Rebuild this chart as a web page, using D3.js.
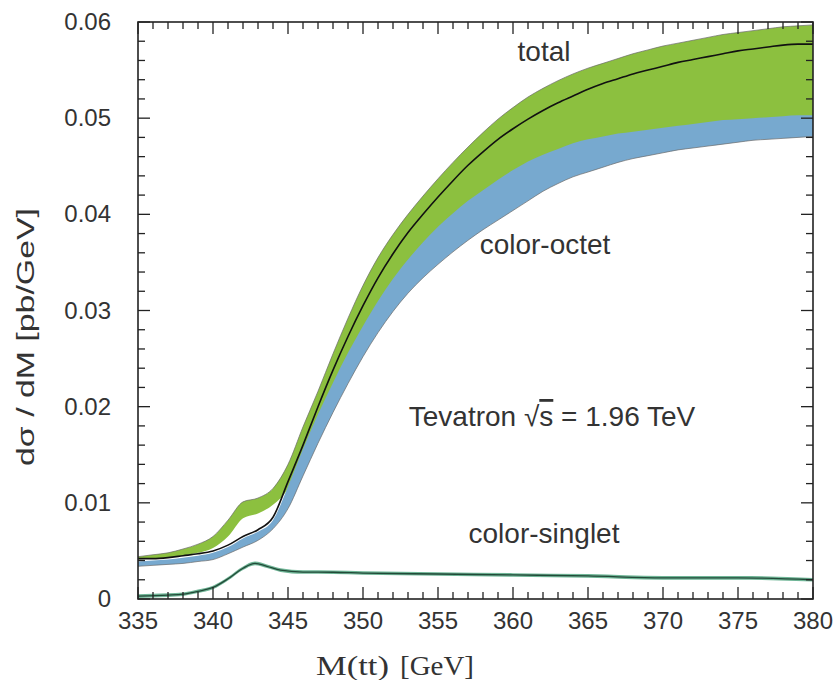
<!DOCTYPE html>
<html>
<head>
<meta charset="utf-8">
<script src="https://cdn.jsdelivr.net/npm/d3@7"></script>
<style>
  html, body { margin: 0; padding: 0; background: #fff; }
  svg { display: block; }
  text { font-family: "Liberation Sans", Arial, Helvetica, sans-serif; fill: #333; }
</style>
</head>
<body>
<svg id="chart" width="836" height="680"></svg>
<script>
// ---------------- data ----------------
const mass = [335,336,337,338,339,340,341,342,343,344,345,346,347,348,349,350,351,352,353,354,355,356,357,358,359,360,361,362,363,364,365,366,367,368,369,370,371,372,373,374,375,376,377,378,379,380];

// total band (green), upper / lower edges
const totalUpper = [0.0044,0.0046,0.0048,0.0052,0.0057,0.0065,0.0082,0.0101,0.0105,0.0115,0.0140,0.0179,0.0216,0.0255,0.0292,0.0326,0.0355,0.0379,0.0400,0.0419,0.0437,0.0454,0.0470,0.0485,0.0499,0.0511,0.0522,0.0531,0.0539,0.0546,0.0552,0.0557,0.0562,0.0567,0.0571,0.0575,0.0578,0.0581,0.0584,0.0587,0.0589,0.0591,0.0593,0.0595,0.0596,0.0597];
const totalLower = [0.0041,0.0042,0.0043,0.0045,0.0048,0.0053,0.0065,0.0084,0.0089,0.0098,0.0115,0.0150,0.0189,0.0222,0.0253,0.0281,0.0307,0.0330,0.0350,0.0368,0.0384,0.0398,0.0411,0.0422,0.0433,0.0443,0.0452,0.0459,0.0465,0.0471,0.0475,0.0478,0.0481,0.0483,0.0485,0.0487,0.0489,0.0491,0.0493,0.0495,0.0496,0.0497,0.0498,0.0499,0.0500,0.0500];
// total central value (black line)
const totalCentral = [0.0042,0.0042,0.0043,0.0045,0.0047,0.0050,0.0056,0.0065,0.0072,0.0085,0.0122,0.0160,0.0200,0.0238,0.0273,0.0305,0.0334,0.0359,0.0381,0.0400,0.0418,0.0435,0.0451,0.0465,0.0478,0.0489,0.0499,0.0508,0.0516,0.0523,0.0530,0.0536,0.0541,0.0546,0.0550,0.0554,0.0558,0.0561,0.0564,0.0567,0.0570,0.0572,0.0574,0.0576,0.0577,0.0577];
// color-octet band (blue)
const octetUpper = [0.0039,0.0040,0.0041,0.0043,0.0045,0.0048,0.0054,0.0063,0.0070,0.0082,0.0117,0.0156,0.0192,0.0225,0.0256,0.0284,0.0310,0.0333,0.0353,0.0371,0.0387,0.0401,0.0414,0.0425,0.0436,0.0446,0.0455,0.0462,0.0468,0.0474,0.0478,0.0481,0.0484,0.0486,0.0488,0.0490,0.0492,0.0494,0.0496,0.0498,0.0499,0.0500,0.0501,0.0502,0.0503,0.0503];
const octetLower = [0.0034,0.0035,0.0036,0.0037,0.0039,0.0041,0.0047,0.0054,0.0061,0.0073,0.0094,0.0128,0.0162,0.0194,0.0224,0.0252,0.0277,0.0299,0.0318,0.0334,0.0348,0.0361,0.0373,0.0384,0.0394,0.0404,0.0414,0.0424,0.0432,0.0439,0.0444,0.0449,0.0454,0.0458,0.0461,0.0464,0.0467,0.0469,0.0471,0.0473,0.0475,0.0477,0.0478,0.0479,0.0480,0.0481];
// color-singlet
const singletMass = [335,337,338,339,340,341,342,342.8,343.6,344.5,346,348,350,355,360,365,370,375,380];
const singletValue = [0.0003,0.0004,0.0005,0.0008,0.0012,0.0021,0.0032,0.0037,0.0034,0.0030,0.0028,0.00278,0.0027,0.0026,0.0025,0.0024,0.0022,0.0022,0.0020];

const xMajorTicks = [335,340,345,350,355,360,365,370,375,380];
const yMajorTicks = [0,0.01,0.02,0.03,0.04,0.05,0.06];
const yTickLabels = ["0","0.01","0.02","0.03","0.04","0.05","0.06"];

// ---------------- layout ----------------
const svg = d3.select("#chart");
const pL = 138, pT = 22, pR = 813, pB = 599;
const x = d3.scaleLinear().domain([335, 380]).range([pL, pR]);
const y = d3.scaleLinear().domain([0, 0.06]).range([pB, pT]);

const rows = mass.map((m, i) => ({m, gu: totalUpper[i], gl: totalLower[i], c: totalCentral[i], bu: octetUpper[i], bl: octetLower[i]}));
const srows = singletMass.map((m, i) => ({m, v: singletValue[i]}));

svg.append("defs").append("clipPath").attr("id", "plotclip")
  .append("rect").attr("x", pL).attr("y", pT).attr("width", pR - pL).attr("height", pB - pT);
const plot = svg.append("g").attr("clip-path", "url(#plotclip)");

const curve = d3.curveMonotoneX;
// green total band
plot.append("path").datum(rows)
  .attr("d", d3.area().curve(curve).x(d => x(d.m)).y0(d => y(d.gl)).y1(d => y(d.gu)))
  .attr("fill", "#8cc03f");
// blue octet band
plot.append("path").datum(rows)
  .attr("d", d3.area().curve(curve).x(d => x(d.m)).y0(d => y(d.bl)).y1(d => y(d.bu)))
  .attr("fill", "#77a9cf");
// thin outlines
plot.append("path").datum(rows)
  .attr("d", d3.line().curve(curve).x(d => x(d.m)).y(d => y(d.gu)))
  .attr("fill", "none").attr("stroke", "#6a6a6a").attr("stroke-width", 0.7);
plot.append("path").datum(rows)
  .attr("d", d3.line().curve(curve).x(d => x(d.m)).y(d => y(d.bl)))
  .attr("fill", "none").attr("stroke", "#6a6a6a").attr("stroke-width", 0.7);
// black central line
plot.append("path").datum(rows)
  .attr("d", d3.line().curve(curve).x(d => x(d.m)).y(d => y(d.c)))
  .attr("fill", "none").attr("stroke", "#111").attr("stroke-width", 1.6);
// singlet band + line
plot.append("path").datum(srows)
  .attr("d", d3.area().curve(curve).x(d => x(d.m)).y0(d => y(d.v) + 1.8).y1(d => y(d.v) - 1.8))
  .attr("fill", "#6fb596");
plot.append("path").datum(srows)
  .attr("d", d3.line().curve(curve).x(d => x(d.m)).y(d => y(d.v)))
  .attr("fill", "none").attr("stroke", "#224a38").attr("stroke-width", 1.3);

// ---------------- axes ----------------
const axisColor = "#222";
const gAx = svg.append("g");
const xMinor = x.ticks(45);
const yMinor = y.ticks(30);
const majLen = 12, minLen = 7;
const isMajorX = v => xMajorTicks.some(t => Math.abs(t - v) < 1e-9);
const isMajorY = v => yMajorTicks.some(t => Math.abs(t - v) < 1e-9);

xMinor.forEach(v => {
  const L = isMajorX(v) ? majLen : minLen;
  gAx.append("line").attr("x1", x(v)).attr("x2", x(v)).attr("y1", pB).attr("y2", pB - L).attr("stroke", axisColor).attr("stroke-width", 1.3);
  gAx.append("line").attr("x1", x(v)).attr("x2", x(v)).attr("y1", pT).attr("y2", pT + L).attr("stroke", axisColor).attr("stroke-width", 1.3);
});
yMinor.forEach(v => {
  const L = isMajorY(v) ? majLen : minLen;
  gAx.append("line").attr("y1", y(v)).attr("y2", y(v)).attr("x1", pL).attr("x2", pL + L).attr("stroke", axisColor).attr("stroke-width", 1.3);
  gAx.append("line").attr("y1", y(v)).attr("y2", y(v)).attr("x1", pR).attr("x2", pR - L).attr("stroke", axisColor).attr("stroke-width", 1.3);
});
gAx.append("rect").attr("x", pL).attr("y", pT).attr("width", pR - pL).attr("height", pB - pT)
  .attr("fill", "none").attr("stroke", axisColor).attr("stroke-width", 1.6);

// tick labels
xMajorTicks.forEach(v => {
  svg.append("text").attr("x", x(v)).attr("y", 629).attr("text-anchor", "middle")
    .attr("font-size", 24).text(v);
});
yMajorTicks.forEach((v, i) => {
  svg.append("text").attr("x", 111).attr("y", y(v) + 8).attr("text-anchor", "end")
    .attr("font-size", 24).text(yTickLabels[i]);
});

// axis titles
svg.append("text").attr("transform", "translate(34,337) rotate(-90)").attr("text-anchor", "middle")
  .attr("font-size", 23).attr("textLength", 258).attr("lengthAdjust", "spacingAndGlyphs")
  .text("dσ / dM [pb/GeV]");
const serif = "'Liberation Serif', 'Times New Roman', serif";
svg.append("text").attr("x", 316).attr("y", 675).style("font-family", serif).attr("font-size", 27)
  .attr("textLength", 73).attr("lengthAdjust", "spacingAndGlyphs").text("M(tt)");
svg.append("text").attr("x", 400).attr("y", 675).style("font-family", serif).attr("font-size", 27)
  .attr("textLength", 74).attr("lengthAdjust", "spacingAndGlyphs").text("[GeV]");

// annotations
svg.append("text").attr("x", 544).attr("y", 61).attr("text-anchor", "middle").attr("font-size", 28).text("total");
svg.append("text").attr("x", 545).attr("y", 254).attr("text-anchor", "middle").attr("font-size", 28).text("color-octet");
svg.append("text").attr("x", 544).attr("y", 543).attr("text-anchor", "middle").attr("font-size", 28).text("color-singlet");
const tev = svg.append("text").attr("x", 552).attr("y", 426).attr("text-anchor", "middle").attr("font-size", 28);
tev.append("tspan").text("Tevatron √");
tev.append("tspan").style("text-decoration", "overline").text("s");
tev.append("tspan").text(" = 1.96 TeV");
</script>
</body>
</html>
